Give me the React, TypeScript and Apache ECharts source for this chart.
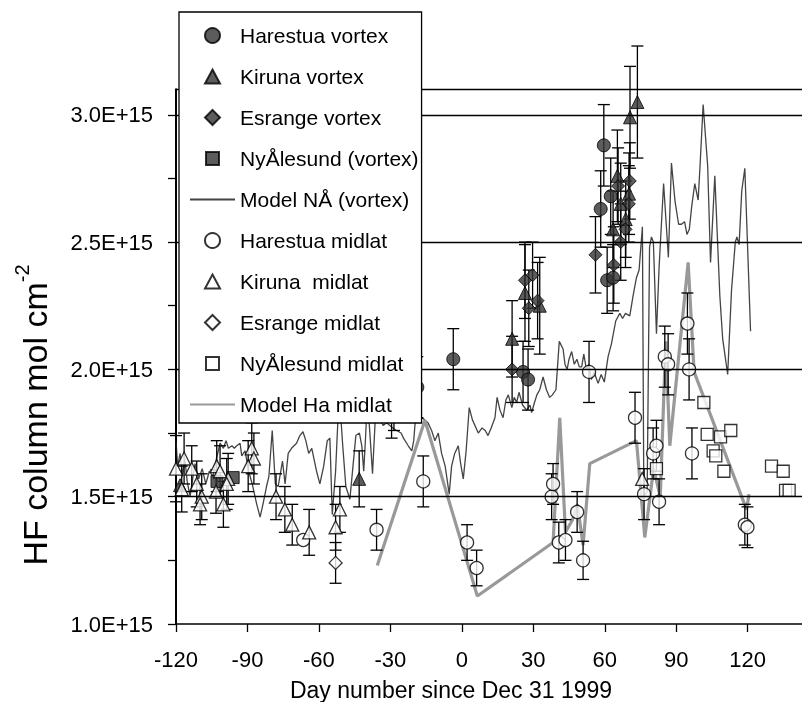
import React, { useEffect, useRef } from 'react';
import * as echarts from 'echarts';

// Values in units of 1E+15 molecules cm^-2; [day, value, error]
const harestuaVortex = [
  [-29.5, 1.85, 0.12], [-28.5, 1.88, 0.12], [-18.7, 1.93, 0.12], [-3.6, 2.04, 0.12],
  [25.7, 1.99, 0.12], [27.8, 1.96, 0.12], [58.3, 2.63, 0.15], [59.6, 2.88, 0.16],
  [61.0, 2.35, 0.13], [62.5, 2.68, 0.15], [63.5, 2.36, 0.13],
];
const kirunaVortex = [
  [-118.3, 1.545, 0], [-43.1, 1.57, 0.11], [21.1, 2.12, 0.15], [26.5, 2.30, 0.19], [32.7, 2.25, 0.19],
  [63.5, 2.55, 0.15], [65.3, 2.76, 0.18], [66.7, 2.65, 0.16], [68.8, 2.59, 0.15],
  [70.2, 2.69, 0.16], [70.6, 2.99, 0.2], [73.7, 3.05, 0.22],
];
const esrangeVortex = [
  [21.1, 2.00, 0.13], [26.5, 2.35, 0.15], [28.1, 2.24, 0.15], [29.7, 2.37, 0.13],
  [31.8, 2.27, 0.15], [56.1, 2.45, 0.15], [63.8, 2.41, 0.15], [65.6, 2.72, 0.15],
  [66.7, 2.50, 0.15], [68.7, 2.55, 0.15], [70.1, 2.65, 0.15], [70.5, 2.74, 0.15],
];
const nyAlesundVortex = [
  [-102.8, 1.56, 0], [-96.0, 1.575, 0],
];
const harestuaMidlat = [
  [-66.6, 1.33, 0], [-35.8, 1.37, 0.08], [-16.2, 1.56, 0.1], [2.2, 1.32, 0.07],
  [6.2, 1.22, 0.07], [37.7, 1.50, 0.09], [38.3, 1.55, 0.08], [40.7, 1.32, 0.08],
  [43.5, 1.33, 0.08], [48.4, 1.44, 0.08], [50.9, 1.25, 0.075], [53.4, 1.99, 0.12],
  [72.7, 1.81, 0.1], [76.5, 1.51, 0.1], [80.3, 1.67, 0.1], [81.7, 1.70, 0.1],
  [82.8, 1.48, 0.09], [85.2, 2.05, 0.12], [86.6, 2.02, 0.12], [94.7, 2.18, 0.12],
  [95.4, 2.00, 0.12], [96.6, 1.67, 0.1], [118.8, 1.39, 0.08], [119.9, 1.38, 0.08],
];
const kirunaMidlat = [
  [-120.0, 1.61, 0.13], [-116.6, 1.65, 0.1], [-113.4, 1.61, 0.09], [-117.6, 1.53, 0.09],
  [-111.3, 1.55, 0.09], [-109.2, 1.50, 0.09], [-109.9, 1.47, 0.08], [-102.9, 1.62, 0.1],
  [-101.5, 1.60, 0.1], [-103.2, 1.52, 0.085], [-100.1, 1.47, 0.09], [-98.1, 1.57, 0.1],
  [-98.7, 1.55, 0.1], [-88.2, 1.69, 0.1], [-87.3, 1.65, 0.1], [-89.7, 1.62, 0.1],
  [-78.0, 1.50, 0.09], [-74.3, 1.45, 0.09], [-71.2, 1.39, 0.08], [-64.1, 1.36, 0.09],
  [-51.2, 1.45, 0.09], [-53.0, 1.38, 0.09], [75.7, 1.57, 0],
];
const esrangeMidlat = [
  [-53.0, 1.24, 0.08],
];
const nyAlesundMidlat = [
  [81.7, 1.61, 0], [101.6, 1.87, 0], [103.0, 1.745, 0], [105.5, 1.68, 0], [106.6, 1.66, 0],
  [108.6, 1.735, 0], [110.0, 1.60, 0], [112.9, 1.76, 0], [130.0, 1.62, 0], [134.9, 1.60, 0],
  [135.9, 1.525, 0], [137.4, 1.525, 0],
];
const modelNA = [
  [-120, 1.72], [-119.3, 1.62], [-118.3, 1.67], [-117.3, 1.58], [-116.3, 1.65], [-115.3, 1.56],
  [-114.1, 1.50], [-113, 1.57], [-112, 1.63], [-110.5, 1.57], [-109, 1.61], [-107.5, 1.55],
  [-106, 1.60], [-104.5, 1.58], [-103, 1.65], [-101.5, 1.71], [-100.1, 1.69], [-99, 1.72],
  [-98, 1.69], [-96.5, 1.70], [-95.5, 1.69], [-94.5, 1.70], [-93.1, 1.71], [-92.4, 1.66],
  [-91, 1.68], [-89.5, 1.60], [-88, 1.55], [-86.1, 1.47], [-84.7, 1.42], [-83.5, 1.47],
  [-82, 1.54], [-81, 1.58], [-79.6, 1.76], [-78.3, 1.55], [-77.1, 1.54], [-75.3, 1.64],
  [-74.2, 1.55], [-72.9, 1.67], [-71.5, 1.69], [-69.4, 1.71], [-68, 1.74], [-66.7, 1.755],
  [-65.5, 1.72], [-64.3, 1.67], [-63, 1.69], [-61, 1.60], [-59.6, 1.55], [-58, 1.62],
  [-56.5, 1.72], [-55.4, 1.73], [-54.4, 1.43], [-53, 1.60], [-51.5, 1.91], [-50, 1.70],
  [-48.7, 1.54], [-47, 1.49], [-44.5, 1.74], [-43, 1.75], [-42, 1.70], [-41.2, 1.60],
  [-40.5, 1.72], [-39.6, 1.89], [-37.5, 1.59], [-36, 1.87], [-35, 1.81], [-33, 1.78],
  [-31.6, 1.79], [-29, 1.77], [-27.4, 1.76], [-25.5, 1.75], [-24.5, 1.73], [-22.5, 1.70],
  [-21, 1.68], [-20.2, 1.72], [-19.7, 1.78], [-18.3, 1.85], [-17.5, 1.80], [-16.5, 1.81],
  [-15.5, 1.80], [-14.2, 1.79], [-12.7, 1.76], [-11.3, 1.72], [-9.9, 1.75], [-8.5, 1.67],
  [-7, 1.62], [-5.3, 1.51], [-4.3, 1.62], [-3, 1.67], [-1.5, 1.70], [-0.5, 1.63],
  [0.6, 1.57], [1.8, 1.68], [3.1, 1.85], [4.5, 1.80], [5.5, 1.78], [6.9, 1.75],
  [8.5, 1.77], [9.8, 1.76], [11, 1.74], [12.3, 1.77], [13.9, 1.81], [14.8, 1.89],
  [16, 1.84], [17.3, 1.81], [18.5, 1.88], [19.5, 1.90], [21, 1.85], [22, 1.89],
  [23, 1.87], [24, 1.91], [25.5, 1.86], [27.2, 1.84], [28.6, 1.86], [29.3, 1.83],
  [30.5, 1.87], [31.5, 1.90], [32.7, 1.92], [34.1, 1.97], [35.5, 1.92], [36.9, 1.89],
  [38, 1.90], [39.5, 1.92], [40.9, 2.11], [42.5, 2.08], [43.3, 2.02], [44.2, 2.00],
  [45, 2.04], [46.1, 2.07], [47.2, 2.02], [48.3, 2.04], [49.3, 2.01], [50.3, 2.01],
  [51.2, 2.06], [52.3, 2.00], [53.3, 2.02], [54.4, 1.96], [55.5, 1.99], [57.2, 1.945],
  [58.5, 1.98], [59.8, 1.95], [61.4, 2.05], [62.8, 2.10], [64.6, 2.19], [66.3, 2.22],
  [67.5, 2.20], [68.7, 2.22], [70.5, 2.21], [71.9, 2.29], [73.3, 2.36], [74.4, 2.39],
  [75.8, 2.56], [76.4, 1.50], [77.8, 1.52], [78.8, 2.48], [79.6, 2.52], [80.4, 2.50],
  [81.7, 2.14], [82.8, 2.40], [84.7, 2.73], [86.7, 2.44], [88, 2.81], [89.5, 2.66],
  [91, 2.57], [92.2, 2.57], [93.5, 2.58], [94.5, 2.53], [95.5, 2.55], [96.5, 2.64],
  [97.8, 2.73], [99.2, 2.665], [100, 2.80], [101.3, 3.04], [103.2, 2.80], [104.4, 2.42],
  [106.2, 2.76], [108.3, 2.29], [109.5, 2.12], [110.4, 2.06], [111.6, 1.98], [113.2, 2.31],
  [114.8, 2.50], [115.5, 2.52], [116.4, 2.49], [117.5, 2.70], [118.8, 2.79], [121.2, 2.15],
];
const modelHa = [
  [-35.5, 1.23], [-15.5, 1.80], [6.5, 1.11], [38.3, 1.32], [41.1, 1.81], [43.5, 1.36],
  [46.5, 1.41], [48.5, 1.47], [50.9, 1.31], [53.7, 1.63], [73.3, 1.72], [76.8, 1.34],
  [80.5, 1.61], [83.3, 1.50], [85.6, 2.11], [87.3, 1.70], [95.0, 2.42], [97.5, 1.99],
  [119.5, 1.45], [120.6, 1.51],
];

const xTickValues = [-120, -90, -60, -30, 0, 30, 60, 90, 120];
const yTickValues = [1.0, 1.25, 1.5, 1.75, 2.0, 2.25, 2.5, 2.75, 3.0];
const yLabelValues = [1.0, 1.5, 2.0, 2.5, 3.0];
const gridLineValues = [1.5, 2.0, 2.5, 3.0, 3.1];
const xTitle = 'Day number since Dec 31 1999';
const yTitle = 'HF column mol cm';
const legendNames = ['Harestua vortex', 'Kiruna vortex', 'Esrange vortex', 'NyÅlesund (vortex)',
  'Model NÅ (vortex)', 'Harestua midlat', 'Kiruna  midlat', 'Esrange midlat',
  'NyÅlesund midlat', 'Model Ha midlat'];

const FONT = 'Liberation Sans, Arial, Helvetica, sans-serif';
const DARK = '#333333';
const NA_COLOR = '#444444';
const HA_COLOR = '#999999';

// Legend icons drawn in a 45x15 box (corner moveTo points fix the box), so the marks keep their aspect
const ICON_BOX = 'M0,0 M45,15 ';
const legendIcons: Record<string, string> = {
  triangle: 'path://' + ICON_BOX + 'M22.5,0.5 L30,14.5 L15,14.5 Z',
  diamond: 'path://' + ICON_BOX + 'M22.5,0 L30,7.5 L22.5,15 L15,7.5 Z',
  rect: 'path://' + ICON_BOX + 'M16,1 L29,1 L29,14 L16,14 Z',
};

export default function App() {
  const ref = useRef<HTMLDivElement>(null);
  useEffect(() => {
    document.body.style.margin = '0';
    const chart = echarts.init(ref.current!, undefined, { renderer: 'svg' });
    const groups: [string, number[][], string, boolean][] = [
      ['Harestua vortex', harestuaVortex, 'circle', true],
      ['Kiruna vortex', kirunaVortex, 'triangle', true],
      ['Esrange vortex', esrangeVortex, 'diamond', true],
      ['NyÅlesund (vortex)', nyAlesundVortex, 'rect', true],
      ['Harestua midlat', harestuaMidlat, 'circle', false],
      ['Kiruna  midlat', kirunaMidlat, 'triangle', false],
      ['Esrange midlat', esrangeMidlat, 'diamond', false],
      ['NyÅlesund midlat', nyAlesundMidlat, 'rect', false],
    ];
    const symbolOf: Record<string, string> = {};
    groups.forEach((g) => { symbolOf[g[0]] = g[2]; });
    const errData: number[][] = [];
    groups.forEach((g) => g[1].forEach((d) => {
      if (d[2] > 0) errData.push([d[0], d[1] - d[2], d[1] + d[2]]);
    }));
    const scatterSeries = groups.map(([name, arr, symbol, filled]) => ({
      name,
      type: 'scatter',
      symbol,
      symbolSize: symbol === 'rect' ? 12 : 13,
      z: 4,
      data: arr.map((d) => [d[0], d[1]]),
      itemStyle: filled
        ? { color: DARK, borderColor: '#000', borderWidth: 1 }
        : { color: '#fff', borderColor: '#000', borderWidth: 1.3 },
    }));
    const legendData = legendNames.map((n) => {
      if (n.startsWith('Model')) {
        return { name: n, itemStyle: { color: 'rgba(0,0,0,0)', borderColor: 'rgba(0,0,0,0)', borderWidth: 0, opacity: 0 } };
      }
      const s = symbolOf[n];
      return legendIcons[s] ? { name: n, icon: legendIcons[s] } : { name: n };
    });
    const option: any = {
      animation: false,
      grid: { left: 176, right: 0, top: 89.3, bottom: 78 },
      xAxis: {
        type: 'value', min: -120, max: 142.8, interval: 30,
        axisLine: { onZero: false, lineStyle: { color: '#000', width: 1.6 } },
        axisTick: { customValues: xTickValues, length: 8, lineStyle: { color: '#000', width: 1.3 } },
        axisLabel: { customValues: xTickValues, margin: 24, color: '#000', fontSize: 22, fontFamily: FONT },
        splitLine: { show: false },
      },
      yAxis: {
        type: 'value', min: 1.0, max: 3.1, interval: 0.25,
        axisLine: { show: true, onZero: false, lineStyle: { color: '#000', width: 2 } },
        axisTick: { show: true, customValues: yTickValues, length: 8, lineStyle: { color: '#000', width: 1.3 } },
        axisLabel: {
          customValues: yLabelValues, margin: 23, color: '#000', fontSize: 22, fontFamily: FONT,
          formatter: (v: number) => v.toFixed(1) + 'E+15',
        },
        splitLine: { show: false },
      },
      legend: {
        orient: 'vertical', left: 179, top: 12, z: 10,
        padding: [13, 3, 8, 10],
        itemWidth: 45, itemHeight: 15, itemGap: 20, itemTextGap: 8,
        backgroundColor: '#fff', borderColor: '#000', borderWidth: 1.3,
        textStyle: { color: '#000', fontSize: 21, fontFamily: FONT, lineHeight: 15 },
        data: legendData,
      },
      graphic: [
        {
          type: 'text', x: 451, y: 690, z: 10,
          style: { text: xTitle, fill: '#000', fontSize: 23, fontFamily: FONT, align: 'center', verticalAlign: 'middle' },
        },
        {
          type: 'text', x: 32, y: 415, rotation: Math.PI / 2, z: 10,
          style: {
            text: '{a|' + yTitle + '}{b|-2}', align: 'center', verticalAlign: 'middle',
            rich: {
              a: { fontSize: 34, fontFamily: FONT, fill: '#000', lineHeight: 40, verticalAlign: 'bottom' },
              b: { fontSize: 20, fontFamily: FONT, fill: '#000', lineHeight: 40, verticalAlign: 'top' },
            },
          },
        },
      ],
      series: [
        {
          name: 'Model NÅ (vortex)', type: 'line', symbol: 'none', z: 2,
          data: modelNA,
          itemStyle: { color: NA_COLOR },
          lineStyle: { color: NA_COLOR, width: 1.3 },
          markLine: {
            silent: true, symbol: 'none', label: { show: false },
            lineStyle: { color: '#000', width: 1.3, type: 'solid' },
            data: gridLineValues.map((v) => ({ yAxis: v })),
          },
        },
        {
          name: 'Model Ha midlat', type: 'line', symbol: 'none', z: 2,
          data: modelHa,
          itemStyle: { color: HA_COLOR },
          lineStyle: { color: HA_COLOR, width: 3.2 },
        },
        {
          name: 'errors', type: 'custom', z: 3, data: errData,
          encode: { x: 0, y: [1, 2] },
          renderItem: (params: any, api: any) => {
            const x = api.value(0);
            const top = api.coord([x, api.value(2)]);
            const bot = api.coord([x, api.value(1)]);
            const w = 6;
            const style = { stroke: '#000', lineWidth: 1.3 };
            return {
              type: 'group',
              children: [
                { type: 'line', shape: { x1: top[0], y1: top[1], x2: bot[0], y2: bot[1] }, style },
                { type: 'line', shape: { x1: top[0] - w, y1: top[1], x2: top[0] + w, y2: top[1] }, style },
                { type: 'line', shape: { x1: bot[0] - w, y1: bot[1], x2: bot[0] + w, y2: bot[1] }, style },
              ],
            };
          },
        },
        ...scatterSeries,
      ],
    };
    chart.setOption(option);
    return () => chart.dispose();
  }, []);
  return <div ref={ref} style={{ position: 'fixed', left: 0, top: 0, width: 802, height: 702 }} />;
}
